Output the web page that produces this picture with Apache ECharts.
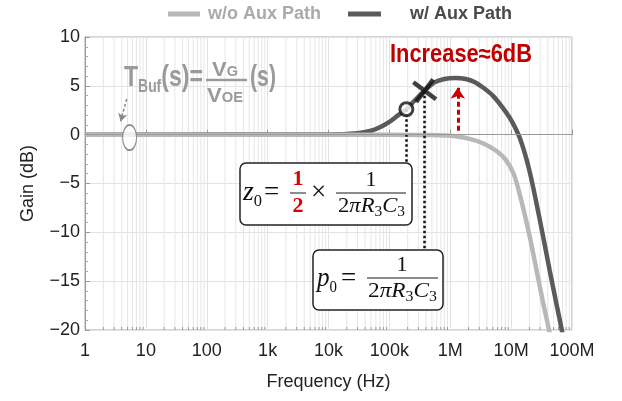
<!DOCTYPE html>
<html><head><meta charset="utf-8">
<script src="https://cdn.jsdelivr.net/npm/echarts@6/dist/echarts.min.js"></script>
<style>html,body{margin:0;padding:0;background:#fff}#c{width:622px;height:401px}</style>
</head><body><div id="c"></div>
<script>
// ---- data ----
const tickLabels = ['1','10','100','1k','10k','100k','1M','10M','100M'];
const freqWo = [1, 1e5, 5e5, 1e6, 2e6, 3.5e6, 5.5e6, 8e6, 1.1e7, 1.45e7, 2e7, 2.6e7, 3.3e7, 4e7, 4.6e7];
const gainWo = [0, 0, -0.03, -0.12, -0.4, -0.9, -1.6, -2.5, -4.0, -6.6, -10.3, -13.8, -17.0, -19.4, -21.2];
const freqW = [1, 1e4, 3e4, 5e4, 7e4, 1e5, 1.4e5, 1.9e5, 2.6e5, 3.8e5, 5.5e5, 8e5, 1.2e6, 1.8e6, 2.5e6, 3.5e6, 5e6, 7e6, 1e7, 1.4e7, 2e7, 3e7, 4.3e7, 5.5e7, 6.8e7, 7.5e7];
const gainW = [0, 0.02, 0.15, 0.4, 0.75, 1.3, 2.0, 2.6, 3.5, 4.5, 5.35, 5.7, 5.8, 5.7, 5.4, 4.8, 4.0, 2.9, 1.5, -0.4, -3.7, -8.9, -13.9, -17.2, -20.0, -21.5];
const zeroPt = [1.9e5, 2.6];      // z0 marker (circle)
const polePt = [3.8e5, 4.5];      // p0 marker (cross)
const zeroLineEnd = -3.0;         // dotted line from z0 down to its box
const poleLineEnd = -11.9;        // dotted line from p0 down to its box
const bufPt = [5.4, -0.3];        // ellipse marker
const bufArrow = [[4.84, 3.65], [3.85, 1.35]];
const peakArrow = [[1.33e6, 0.4], [1.33e6, 4.8]];

const SERIF = '"Liberation Serif","Times New Roman",serif';
const SANS = '"Liberation Sans",Arial,sans-serif';
const DARK = '#5a5a5a', LIGHT = '#b8b8b8';

const chart = echarts.init(document.getElementById('c'), null, {renderer: 'canvas'});
const toXY = (xs, ys) => xs.map((x, i) => [x, ys[i]]);

chart.setOption({
  animation: false,
  backgroundColor: '#fff',
  grid: {left: 85, top: 37, width: 487, height: 293, show: true, borderColor: '#aaa', borderWidth: 1, backgroundColor: 'transparent', outerBoundsMode: 'none', containLabel: false},
  legend: [
    {data: ['w/o Aux Path'], left: 163, top: 0, icon: 'rect', itemWidth: 32, itemHeight: 5,
     textStyle: {fontFamily: SANS, fontWeight: 'bold', fontSize: 18, color: '#aaa', padding: [0, 0, 0, 3]}},
    {data: ['w/ Aux Path'], left: 343, top: 0, icon: 'rect', itemWidth: 33, itemHeight: 5,
     textStyle: {fontFamily: SANS, fontWeight: 'bold', fontSize: 18, color: '#4a4a4a', padding: [0, 0, 0, 24]}}
  ],
  xAxis: {
    type: 'log', logBase: 10, min: 1, max: 1e8, interval: 1, splitNumber: 8,
    name: 'Frequency (Hz)', nameLocation: 'middle', nameGap: 43,
    nameTextStyle: {fontFamily: SANS, fontSize: 18, color: '#222'},
    axisLine: {show: true, lineStyle: {color: '#999', width: 1}},
    axisTick: {show: true, inside: true, length: 5, lineStyle: {color: '#999'}},
    axisLabel: {fontFamily: SANS, fontSize: 18, color: '#222', margin: 12, showMinLabel: true, showMaxLabel: true,
      formatter: v => tickLabels[Math.round(Math.log10(v))]},
    splitLine: {show: true, lineStyle: {color: '#e2e2e2', width: 1}},
    minorTick: {show: false}, minorSplitLine: {show: false}
  },
  yAxis: {
    type: 'value', min: -20, max: 10, interval: 5,
    name: 'Gain (dB)', nameLocation: 'middle', nameGap: 48, nameRotate: 90,
    nameTextStyle: {fontFamily: SANS, fontSize: 18, color: '#222'},
    axisLine: {show: true, lineStyle: {color: '#999', width: 1}},
    axisTick: {show: true, inside: true, length: 5, lineStyle: {color: '#999'}},
    minorTick: {show: true, splitNumber: 5, length: 3, lineStyle: {color: '#aaa'}},
    axisLabel: {fontFamily: SANS, fontSize: 18, color: '#222', margin: 5,
      formatter: v => v < 0 ? '\u2212' + (-v) : String(v)},
    splitLine: {show: true, lineStyle: {color: '#e2e2e2', width: 1}}
  },
  series: [
    {name: 'w/ Aux Path', type: 'line', z: 2, data: toXY(freqW, gainW), showSymbol: false, smooth: 0.3,
     lineStyle: {color: DARK, width: 4.5}, itemStyle: {color: DARK}, silent: true,
     markLine: {silent: true, symbol: ['none', 'none'], label: {show: false},
       lineStyle: {color: '#111', width: 2.5, type: [2.5, 2.5]},
       data: [
         [{coord: zeroPt}, {coord: [zeroPt[0], zeroLineEnd]}],
         [{coord: polePt}, {coord: [polePt[0], poleLineEnd]}]
       ]}},
    {name: 'w/o Aux Path', type: 'line', z: 3, data: toXY(freqWo, gainWo), showSymbol: false, smooth: 0.3,
     lineStyle: {color: LIGHT, width: 4.5}, itemStyle: {color: LIGHT}, silent: true},
    {name: 'annot', type: 'scatter', z: 5, silent: true,
     data: [
       {value: zeroPt, symbol: 'circle', symbolSize: 13, itemStyle: {color: '#fff', borderColor: '#111', borderWidth: 3}},
       {value: polePt, symbol: 'path://M0,0L10,10M10,0L0,10', symbolSize: 20, symbolRotate: 8, itemStyle: {color: 'none', borderColor: '#111', borderWidth: 4.5}},
       {value: bufPt, symbol: 'circle', symbolSize: [14, 25], itemStyle: {color: '#fff', borderColor: '#777', borderWidth: 1.5}}
     ],
     markLine: {silent: true, label: {show: false}, symbol: ['none', 'none'],
       data: [
         {yAxis: 0, lineStyle: {color: '#9a9a9a', width: 1.2, type: 'solid'}},
         [{coord: peakArrow[0], lineStyle: {color: '#cc0000', width: 3, type: [5, 3]}}, {coord: peakArrow[1], symbol: 'arrow', symbolSize: [11, 11]}],
         [{coord: bufArrow[0], lineStyle: {color: '#888', width: 1.5, type: [3, 2], curveness: 0.25}}, {coord: bufArrow[1], symbol: 'arrow', symbolSize: [7, 8]}]
       ]}}
  ]
});

// ---- annotation graphics ----
const mctx = document.createElement('canvas').getContext('2d');
function tokW(t) { mctx.font = (t.it ? 'italic ' : '') + (t.b ? 'bold ' : '') + t.s + 'px ' + t.f; return mctx.measureText(t.t).width; }
function row(tokens, left, right, baseline, color, z, cx) {
  let cur = 0; const kids = [];
  tokens.forEach(tk => {
    const t = Object.assign({f: SERIF}, tk);
    const w = tokW(t);
    kids.push({type: 'text', z: z, x: cur, y: baseline + (t.dy || 0) - 0.33 * t.s,
      style: {text: t.t, fill: t.c || color, fontSize: t.s, fontFamily: t.f, fontStyle: t.it ? 'italic' : 'normal',
        fontWeight: t.b ? 'bold' : 'normal', align: 'left', verticalAlign: 'middle'}});
    cur += w;
  });
  let scale = 1, x = left;
  if (cx != null) { x = cx - cur / 2; }
  else if (right != null) { scale = (right - left) / cur; }
  return {type: 'group', x: x, y: 0, scaleX: scale, z: z, children: kids};
}
const g = [];
// minor vertical grid lines and minor x ticks
const yTop = chart.convertToPixel({yAxisIndex: 0}, 10), yBot = chart.convertToPixel({yAxisIndex: 0}, -20);
for (let d = 0; d < 8; d++) {
  for (let m = 2; m <= 9; m++) {
    const px = chart.convertToPixel({xAxisIndex: 0}, m * Math.pow(10, d));
    g.push({type: 'line', z: 0, silent: true, shape: {x1: px, y1: yTop, x2: px, y2: yBot}, style: {stroke: '#e6e6e6', lineWidth: 1}});
    g.push({type: 'line', z: 1, silent: true, shape: {x1: px, y1: yBot, x2: px, y2: yBot - 3}, style: {stroke: '#999', lineWidth: 1}});
  }
}
// T_Buf(s) = V_G / V_OE (s)
const GR = '#9a9a9a';
g.push(row([{t: 'T', s: 30, b: 1, f: SANS}, {t: 'Buf', s: 18, b: 1, f: SANS, dy: 5}, {t: '(s)=', s: 30, b: 1, f: SANS}], 124, 203, 88, GR, 6));
g.push(row([{t: 'V', s: 21, b: 1, f: SANS}, {t: 'G', s: 14, b: 1, f: SANS}], 212, 238, 77, GR, 6));
g.push({type: 'line', z: 6, shape: {x1: 206, y1: 80, x2: 247, y2: 80}, style: {stroke: GR, lineWidth: 2.6}});
g.push(row([{t: 'V', s: 21, b: 1, f: SANS}, {t: 'OE', s: 14, b: 1, f: SANS}], 207, 243, 103, GR, 6));
g.push(row([{t: '(s)', s: 30, b: 1, f: SANS}], 250, 276, 88, GR, 6));
// Increase≈6dB
g.push(row([{t: 'Increase\u22486dB', s: 25, b: 1, f: SANS}], 390, 532, 63, '#c00000', 6));
// box 1 : z0
const INK = '#111';
g.push({type: 'rect', z: 10, shape: {x: 240, y: 163, width: 172, height: 62, r: 6}, style: {fill: '#fff', stroke: '#222', lineWidth: 1.5}});
g.push(row([{t: 'z', s: 27, it: 1}, {t: '0', s: 16, dy: 5}], 243, 262, 202, INK, 11));
g.push(row([{t: '=', s: 27}], 264, null, 202, INK, 11));
g.push(row([{t: '1', s: 22, b: 1}], null, null, 187, '#e00000', 11, 298));
g.push({type: 'line', z: 11, shape: {x1: 290, y1: 193, x2: 306, y2: 193}, style: {stroke: '#666', lineWidth: 1.5}});
g.push(row([{t: '2', s: 22, b: 1}], null, null, 214, '#e00000', 11, 298));
g.push(row([{t: '\u00d7', s: 27}], 311, null, 202, INK, 11));
g.push(row([{t: '1', s: 22}], null, null, 187, INK, 11, 371));
g.push({type: 'line', z: 11, shape: {x1: 336, y1: 193, x2: 406, y2: 193}, style: {stroke: '#666', lineWidth: 1.5}});
const denom = [{t: '2', s: 22}, {t: '\u03c0', s: 22, it: 1}, {t: 'R', s: 22, it: 1}, {t: '3', s: 15, dy: 4}, {t: 'C', s: 22, it: 1}, {t: '3', s: 15, dy: 4}];
g.push(row(denom, 338, 405, 213, INK, 11));
// box 2 : p0
g.push({type: 'rect', z: 10, shape: {x: 313, y: 250, width: 130, height: 60, r: 6}, style: {fill: '#fff', stroke: '#222', lineWidth: 1.5}});
g.push(row([{t: 'p', s: 27, it: 1}, {t: '0', s: 16, dy: 5}], 317, 337, 288, INK, 11));
g.push(row([{t: '=', s: 27}], 341, null, 288, INK, 11));
g.push(row([{t: '1', s: 22}], null, null, 272, INK, 11, 402));
g.push({type: 'line', z: 11, shape: {x1: 367, y1: 278, x2: 438, y2: 278}, style: {stroke: '#666', lineWidth: 1.5}});
g.push(row(denom, 368, 437, 298, INK, 11));

chart.setOption({graphic: {elements: g}});
</script></body></html>
